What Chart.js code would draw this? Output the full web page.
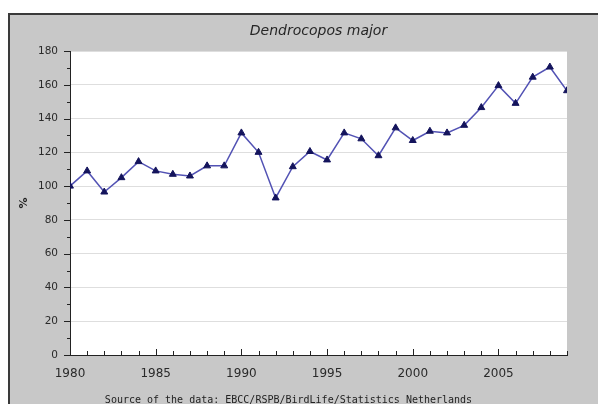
<!DOCTYPE html>
<html>
<head>
<meta charset="utf-8">
<title>Dendrocopos major</title>
<script src="https://cdn.jsdelivr.net/npm/chart.js@4.4.1/dist/chart.umd.min.js"></script>
<style>
  html, body { margin: 0; padding: 0; background: #fff; overflow: hidden; }
  #frame {
    position: absolute; left: 8px; top: 13px;
    width: 588px; height: 392px;
    background: #c8c8c8;
    border-left: 2px solid #3a3a3a;
    border-top: 2px solid #3a3a3a;
  }
  canvas { display: block; }
</style>
</head>
<body>
<div id="frame"><canvas id="indexChart" width="588" height="392"></canvas></div>
<script>
// index values per year (1980 = 100)
const years = [1980, 1981, 1982, 1983, 1984, 1985, 1986, 1987, 1988, 1989,
               1990, 1991, 1992, 1993, 1994, 1995, 1996, 1997, 1998, 1999,
               2000, 2001, 2002, 2003, 2004, 2005, 2006, 2007, 2008, 2009];
const indexValues = [100, 109, 96.5, 105, 114.5, 109, 107, 106, 112, 112,
                     131.5, 120, 93, 111.5, 120.5, 115.5, 131.5, 128, 118, 134.5,
                     127, 132.5, 131.5, 136, 146.5, 159.5, 149, 164.5, 170.5, 156.5];
const speciesName = 'Dendrocopos major';
const sourceNote = 'Source of the data: EBCC/RSPB/BirdLife/Statistics Netherlands';

// small tick marks: x ticks point up into the plot, y ticks point outward
const axisTicks = {
  id: 'axisTicks',
  afterDraw(chart) {
    const ctx = chart.ctx;
    const xs = chart.scales.x, ys = chart.scales.y;
    ctx.save();
    ctx.strokeStyle = '#222';
    ctx.lineWidth = 1;
    ctx.beginPath();
    for (let v = xs.min; v <= xs.max; v++) {
      const px = Math.round(xs.getPixelForValue(v)) + 0.5;
      const len = v % 5 === 0 ? 6 : 4;
      ctx.moveTo(px, xs.top);
      ctx.lineTo(px, xs.top - len);
    }
    for (let v = ys.min; v <= ys.max; v += 10) {
      const py = Math.round(ys.getPixelForValue(v)) + 0.5;
      const len = v % 20 === 0 ? 6 : 3;
      ctx.moveTo(ys.right, py);
      ctx.lineTo(ys.right - len, py);
    }
    ctx.stroke();
    ctx.restore();
  }
};

// white plotting area
const plotBackground = {
  id: 'plotBackground',
  beforeDraw(chart) {
    const a = chart.chartArea;
    chart.ctx.save();
    chart.ctx.fillStyle = '#fff';
    chart.ctx.fillRect(a.left, a.top, a.right - a.left, a.bottom - a.top);
    chart.ctx.restore();
  }
};

const ctx = document.getElementById('indexChart').getContext('2d');
new Chart(ctx, {
  type: 'line',
  data: {
    datasets: [{
      label: speciesName,
      data: years.map((y, i) => ({ x: y, y: indexValues[i] })),
      borderColor: '#5252b4',
      borderWidth: 1.5,
      pointStyle: 'triangle',
      pointRadius: 4,
      pointBackgroundColor: '#14145c',
      pointBorderColor: '#14145c',
      pointBorderWidth: 1,
      tension: 0,
      fill: false
    }]
  },
  options: {
    responsive: false,
    animation: false,
    devicePixelRatio: 1,
    layout: { padding: { top: 0, right: 31, bottom: 0, left: 0 } },
    plugins: {
      legend: { display: false },
      tooltip: { enabled: false },
      title: {
        display: true,
        text: speciesName,
        fullSize: false,
        color: '#262626',
        font: { family: 'DejaVu Sans', size: 14, style: 'italic', weight: 'normal' },
        padding: { top: 8, bottom: 11.2 }
      },
      subtitle: {
        display: true,
        position: 'bottom',
        text: sourceNote,
        color: '#222',
        font: { family: 'DejaVu Sans Mono', size: 10, lineHeight: 1.3 },
        padding: 0
      }
    },
    scales: {
      x: {
        type: 'linear',
        min: 1980,
        max: 2009,
        afterFit(scale) { scale.height = 39; },
        grid: { display: false, drawTicks: false },
        border: { display: true, color: '#222', width: 1 },
        ticks: {
          stepSize: 5,
          includeBounds: false,
          padding: 12,
          color: '#2a2a2a',
          font: { family: 'DejaVu Sans', size: 12 },
          callback: v => String(v)
        }
      },
      y: {
        min: 0,
        max: 180,
        afterFit(scale) { scale.width = 60; },
        grid: { color: '#dedede', drawTicks: false },
        border: { display: true, color: '#222', width: 1 },
        ticks: {
          stepSize: 20,
          padding: 12,
          color: '#2a2a2a',
          font: { family: 'DejaVu Sans', size: 10.5 }
        },
        title: {
          display: true,
          text: '%',
          color: '#222',
          font: { family: 'DejaVu Sans', size: 11, weight: 'bold' },
          padding: { top: 8, bottom: 0 }
        }
      }
    }
  },
  plugins: [plotBackground, axisTicks]
});
</script>
</body>
</html>
